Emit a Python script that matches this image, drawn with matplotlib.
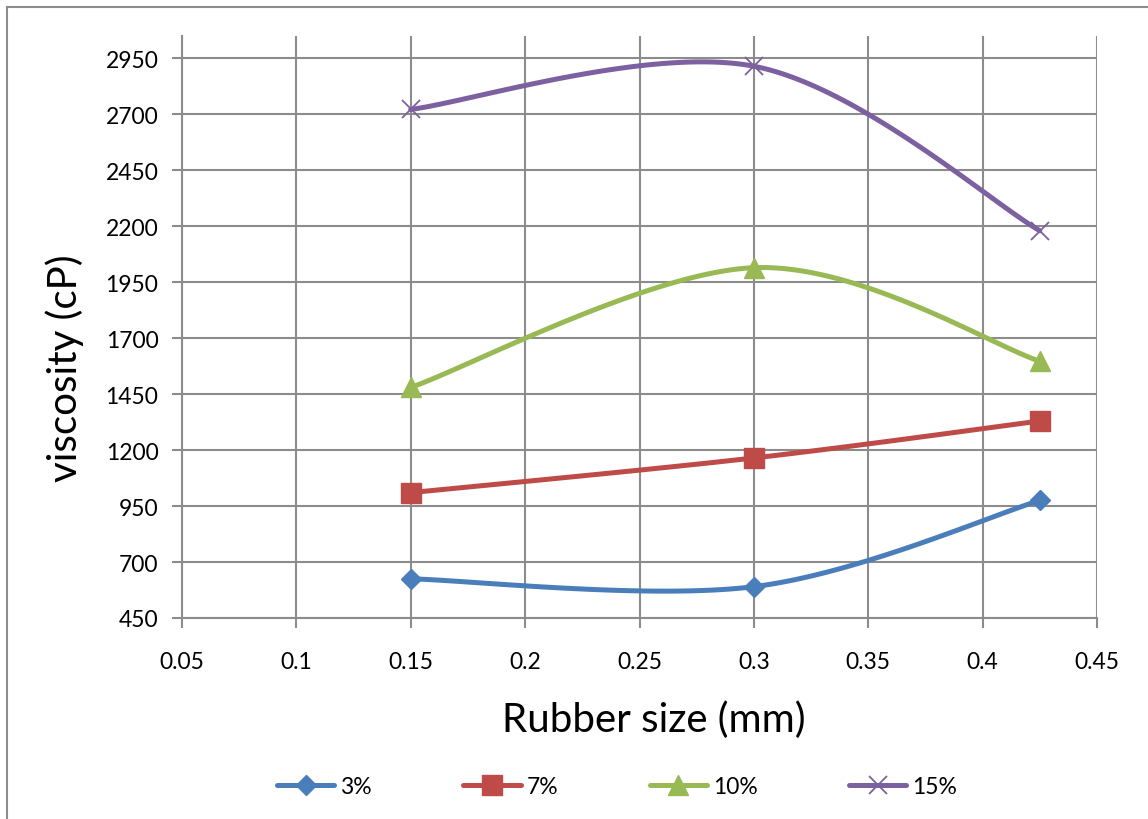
import numpy as np
import matplotlib
matplotlib.use("Agg")
import matplotlib.pyplot as plt
from matplotlib.lines import Line2D

plt.rcParams['font.family'] = ['Lato', 'DejaVu Sans']

# rubber particle size (mm) and viscosity (cP) for each rubber content
size_mm = [0.15, 0.3, 0.425]
visc_3 = [625, 590, 975]
visc_7 = [1010, 1165, 1330]
visc_10 = [1480, 2015, 1597]
visc_15 = [2722, 2915, 2180]

series_names = ['3%', '7%', '10%', '15%']
x_ticks = [0.05, 0.1, 0.15, 0.2, 0.25, 0.3, 0.35, 0.4, 0.45]
x_tick_labels = ['0.05', '0.1', '0.15', '0.2', '0.25', '0.3', '0.35', '0.4', '0.45']
y_ticks = list(range(450, 3000, 250))


def smooth(xs, ys, n=60):
    # Bezier segments with Catmull-Rom tangents, like a spreadsheet "smoothed line"
    p = np.column_stack([xs, ys]).astype(float)
    pts = np.vstack([p[0], p, p[-1]])
    t = np.linspace(0, 1, n)[:, None]
    out = []
    for i in range(1, len(pts) - 2):
        p0, p1, p2, p3 = pts[i - 1], pts[i], pts[i + 1], pts[i + 2]
        c1 = p1 + (p2 - p0) / 6
        c2 = p2 - (p3 - p1) / 6
        seg = ((1 - t) ** 3) * p1 + 3 * ((1 - t) ** 2) * t * c1 \
            + 3 * (1 - t) * (t ** 2) * c2 + (t ** 3) * p2
        out.append(seg)
    return np.vstack(out)


W, H = 1148, 820
fig = plt.figure(figsize=(W / 100, H / 100), dpi=100)
ax = fig.add_axes([182 / W, 1 - 619 / H, (1097 - 182) / W, (619 - 37) / H])

styles = [
    (visc_3, '#4A7EBB', 'D', 10.5, 1.0),
    (visc_7, '#BE4B48', 's', 14, 1.0),
    (visc_10, '#98B954', '^', 15, 1.0),
    (visc_15, '#7D60A0', 'x', 13, 1.3),
]

handles = []
for (vals, col, mk, ms, mew), name in zip(styles, series_names):
    curve = smooth(size_mm, vals)
    ax.plot(curve[:, 0], curve[:, 1], color=col, lw=3.6, solid_capstyle='round', zorder=3)
    ax.plot(size_mm, vals, ls='none', marker=mk, ms=ms, color=col, mec=col, mew=mew, zorder=4)
    handles.append(Line2D([], [], color=col, lw=3.6, marker=mk, ms=ms, mec=col, mew=mew,
                          solid_capstyle='round', label=name))

ax.set_xlim(0.05, 0.45)
ax.set_ylim(450, 3050)
ax.set_xticks(x_ticks)
ax.set_xticklabels(x_tick_labels)
ax.set_yticks(y_ticks)

grid_col = '#8C8C8C'
ax.grid(True, color=grid_col, lw=1.5, zorder=0)
ax.set_axisbelow(True)
for s in ['top', 'right']:
    ax.spines[s].set_visible(False)
for s in ['left', 'bottom']:
    ax.spines[s].set_color(grid_col)
    ax.spines[s].set_linewidth(1.5)
ax.tick_params(axis='both', direction='out', length=7, width=1.5, color=grid_col,
               labelsize=16.5, labelcolor='black')
ax.tick_params(axis='y', pad=10)
ax.tick_params(axis='x', pad=17)

fig.text(654 / W, 1 - 720 / H, 'Rubber size (mm)', ha='center', va='center', fontsize=29)
fig.text(65 / W, 1 - 368 / H, 'viscosity (cP)', ha='center', va='center', rotation=90, fontsize=29)

fig.legend(handles=handles, loc='center', bbox_to_anchor=(617 / W, 1 - 788 / H), ncol=4,
           frameon=False, fontsize=16.5, handlelength=2.5, handletextpad=0.25,
           columnspacing=4.0, numpoints=1)

# chart border (left and top edges)
fig.add_artist(Line2D([7 / W, 7 / W], [0, 1 - 8 / H], color='#8C8C8C', lw=1.5,
                      transform=fig.transFigure))
fig.add_artist(Line2D([7 / W, 1], [1 - 8 / H, 1 - 8 / H], color='#8C8C8C', lw=1.5,
                      transform=fig.transFigure))

fig.savefig('out.png', dpi=100, facecolor='white')
